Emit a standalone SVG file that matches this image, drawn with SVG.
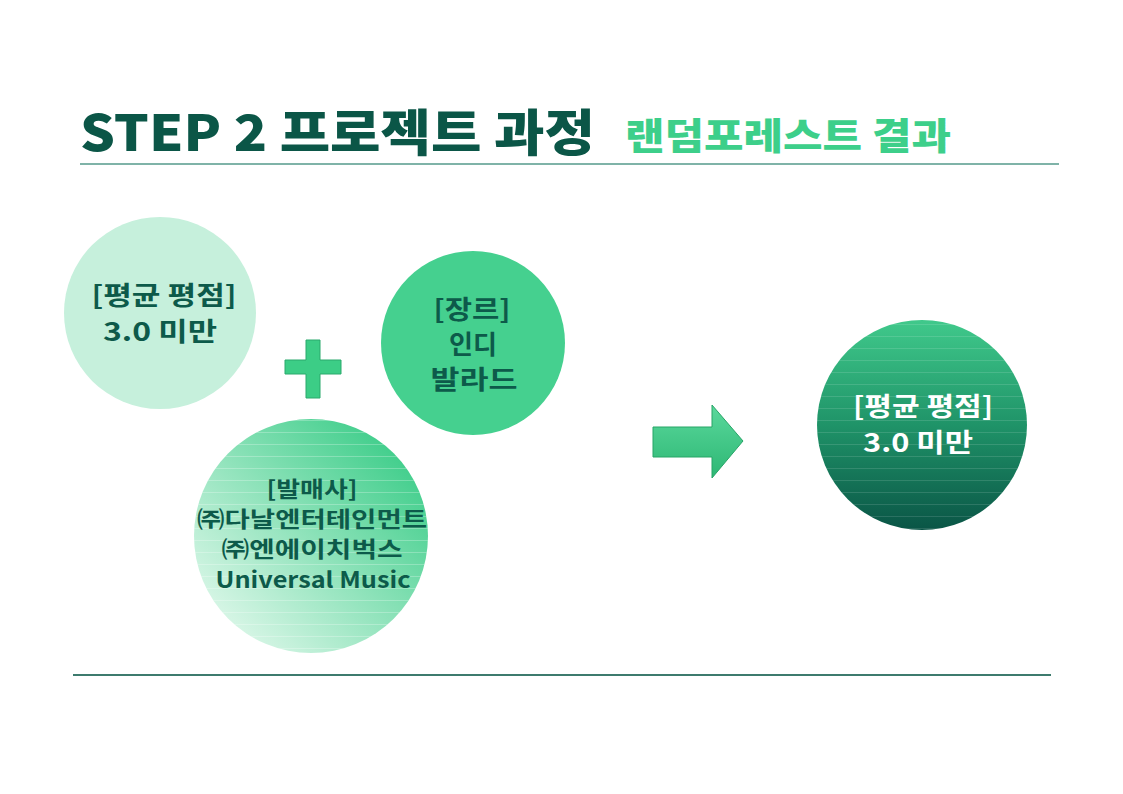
<svg xmlns="http://www.w3.org/2000/svg" width="1123" height="794" viewBox="0 0 1123 794">
<defs>
<style>
.t{font-family:"Noto Sans CJK KR","Noto Sans",sans-serif;font-weight:700;text-anchor:middle}
.dk{fill:#0d5a4a}
</style>
<linearGradient id="g3" x1="0.15" y1="0.85" x2="0.85" y2="0.15">
<stop offset="0" stop-color="#d4f5e4"/>
<stop offset="1" stop-color="#45cf8e"/>
</linearGradient>
<linearGradient id="g4" x1="0" y1="0" x2="0" y2="1">
<stop offset="0" stop-color="#40c98b"/>
<stop offset="0.5" stop-color="#1f9368"/>
<stop offset="1" stop-color="#0a5546"/>
</linearGradient>
<linearGradient id="ga" x1="0" y1="0" x2="0" y2="1">
<stop offset="0" stop-color="#5ad89c"/>
<stop offset="1" stop-color="#2db774"/>
</linearGradient>
<pattern id="stripes" width="10" height="12" patternUnits="userSpaceOnUse">
<rect y="0" width="10" height="1" fill="#ffffff" opacity="0.25"/>
</pattern>
</defs>
<rect width="1123" height="794" fill="#ffffff"/>
<g id="title">
<text x="80" y="151" font-family="'Noto Sans CJK KR',sans-serif" font-weight="900" font-size="50" fill="#0b5647" textLength="515" lengthAdjust="spacingAndGlyphs">STEP 2 프로젝트 과정</text>
<text x="625" y="150" font-family="'Noto Sans CJK KR',sans-serif" font-weight="900" font-size="37" fill="#3dcf8a" textLength="326" lengthAdjust="spacingAndGlyphs">랜덤포레스트 결과</text>
<line x1="80" y1="164" x2="1059" y2="164" stroke="#7fb3a8" stroke-width="2"/>
</g>
<g id="rating">
<circle cx="160" cy="313" r="96" fill="#c6f0dc"/>
<text class="t dk" x="164" y="305" font-size="26" textLength="145" lengthAdjust="spacingAndGlyphs">[평균 평점]</text>
<text class="t dk" x="160" y="341" font-size="26" textLength="114" lengthAdjust="spacingAndGlyphs">3.0 미만</text>
</g>
<g id="plus">
<path d="M306 340 H320 V360 H341 V374 H320 V398 H306 V374 H285 V360 H306 Z" fill="#3ccd86" stroke="#2aa96c" stroke-width="1"/>
</g>
<g id="genre">
<circle cx="473" cy="343" r="92" fill="#45d08f"/>
<text class="t dk" x="472" y="319" font-size="26" textLength="77" lengthAdjust="spacingAndGlyphs">[장르]</text>
<text class="t dk" x="473" y="354" font-size="26" textLength="48" lengthAdjust="spacingAndGlyphs">인디</text>
<text class="t dk" x="474" y="389" font-size="26" textLength="87" lengthAdjust="spacingAndGlyphs">발라드</text>
</g>
<g id="label">
<circle cx="311" cy="536" r="117" fill="url(#g3)"/>
<circle cx="311" cy="536" r="117" fill="url(#stripes)"/>
<text class="t dk" x="312" y="497" font-size="22" textLength="91" lengthAdjust="spacingAndGlyphs">[발매사]</text>
<text class="t dk" x="312" y="527" font-size="22" textLength="230" lengthAdjust="spacingAndGlyphs">㈜다날엔터테인먼트</text>
<text class="t dk" x="312" y="557" font-size="22" textLength="181" lengthAdjust="spacingAndGlyphs">㈜엔에이치벅스</text>
<text class="t dk" x="313" y="588" font-size="22" textLength="195" lengthAdjust="spacingAndGlyphs">Universal Music</text>
</g>
<g id="connectors">
<path d="M653 427 H712 V405 L743 441 L712 478 V457 H653 Z" fill="url(#ga)" stroke="#27a567" stroke-width="1"/>
</g>
<g id="result">
<circle cx="922" cy="425" r="105" fill="url(#g4)"/>
<circle cx="922" cy="425" r="105" fill="url(#stripes)" opacity="0.5"/>
<text class="t" x="923" y="416" font-size="26" fill="#ffffff" textLength="140" lengthAdjust="spacingAndGlyphs">[평균 평점]</text>
<text class="t" x="918" y="452" font-size="26" fill="#ffffff" textLength="110" lengthAdjust="spacingAndGlyphs">3.0 미만</text>
</g>
<g id="footer">
<line x1="73" y1="675" x2="1051" y2="675" stroke="#3d7b6e" stroke-width="2"/>
</g>
</svg>
